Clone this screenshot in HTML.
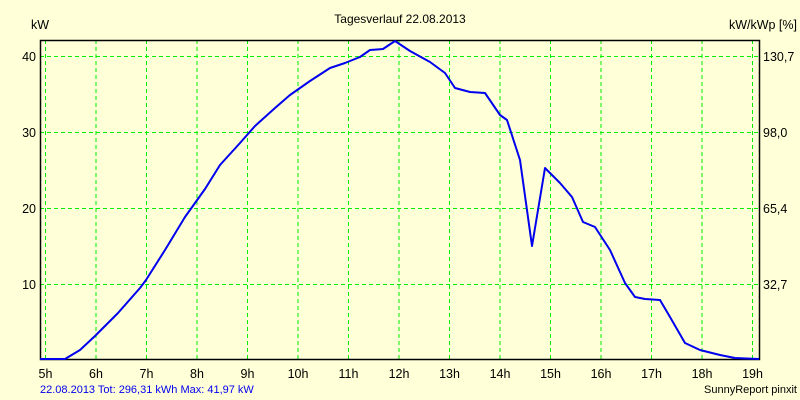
<!DOCTYPE html>
<html><head><style>
body{margin:0;background:#ffffd8;}
svg{display:block;font-family:"Liberation Sans",sans-serif;}
</style></head><body>
<svg width="800" height="400" viewBox="0 0 800 400">
<rect width="800" height="400" fill="#ffffd8"/>
<g stroke="#00ee00" stroke-width="1" stroke-dasharray="4,3" fill="none">
<path d="M45.5 40V359M96 40V359M146.5 40V359M197 40V359M247.5 40V359M298 40V359M348.5 40V359M399 40V359M449.5 40V359M500 40V359M550.5 40V359M601 40V359M651.5 40V359M702 40V359M752.5 40V359"/>
<path d="M40 56.5H759M40 132.5H759M40 208.5H759M40 284.5H759"/>
</g>
<path d="M40.5 40.5V359.5H759.5V40.5Z" fill="none" stroke="#000" stroke-width="1.5"/>
<polyline fill="none" stroke="#0000ee" stroke-width="2" stroke-linejoin="round" points="40,359 65,359 80,350 95,336 118,313 140,288 146,280 165,250 185,217 205,189 220,165 240,143 255,126 275,108 290,95 310,81 330,68 345,63 360,57 370,50 383,49 395,41 410,51 430,62 445,73 455,88 470,92 485,93 500,115 507,120 520,160 532,246 545,168 560,183 572,197 583,222 595,227 610,250 625,283 635,297 645,299 660,300 670,317 685,343 700,350 720,355 735,358 759,359"/>
<g font-size="12.5" fill="#000">
<text x="31" y="29">kW</text>
<text x="36" y="61" text-anchor="end">40</text>
<text x="36" y="137" text-anchor="end">30</text>
<text x="36" y="213" text-anchor="end">20</text>
<text x="36" y="289" text-anchor="end">10</text>
<text x="400" y="23" text-anchor="middle" font-size="12">Tagesverlauf 22.08.2013</text>
<text x="797" y="29" text-anchor="end">kW/kWp [%]</text>
<text x="763" y="61">130,7</text>
<text x="763" y="137">98,0</text>
<text x="763" y="213">65,4</text>
<text x="763" y="289">32,7</text>
<g text-anchor="middle">
<text x="45.5" y="378">5h</text><text x="96" y="378">6h</text><text x="146.5" y="378">7h</text><text x="197" y="378">8h</text><text x="247.5" y="378">9h</text><text x="298" y="378">10h</text><text x="348.5" y="378">11h</text><text x="399" y="378">12h</text><text x="449.5" y="378">13h</text><text x="500" y="378">14h</text><text x="550.5" y="378">15h</text><text x="601" y="378">16h</text><text x="651.5" y="378">17h</text><text x="702" y="378">18h</text><text x="752.5" y="378">19h</text>
</g>
</g>
<text x="40" y="393" font-size="11" fill="#0000ee">22.08.2013 Tot: 296,31 kWh Max: 41,97 kW</text>
<text x="797" y="393" font-size="11" fill="#000" text-anchor="end">SunnyReport pinxit</text>
</svg>
</body></html>
